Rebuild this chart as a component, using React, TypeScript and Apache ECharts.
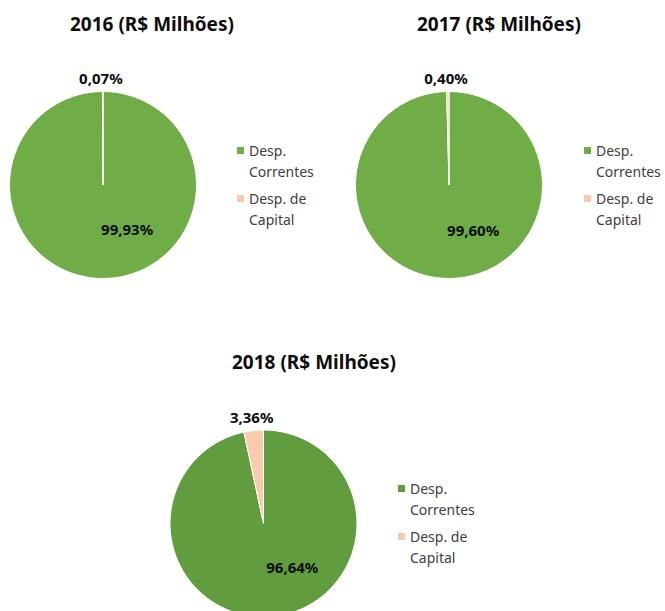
import React, { useEffect, useRef } from 'react';
import * as echarts from 'echarts';

// ---- data ----
const years = ['2016', '2017', '2018'];
const categories = ['Desp. Correntes', 'Desp. de Capital'];
const correntes = [99.93, 99.6, 96.64];
const capital = [0.07, 0.4, 3.36];
const legendLines: Record<string, string> = {
  'Desp. Correntes': 'Desp.\nCorrentes',
  'Desp. de Capital': 'Desp. de\nCapital',
};

// ---- styles / layout ----
const greens = ['#70AD47', '#70AD47', '#619D3F'];
const peach = '#F8CBAD';
const FONT = 'Noto Sans';

const layouts = [
  { center: [103, 185], titleLeft: 70, titleTop: 14, legendLeft: 237, legendTop: 119, big: [24, -6], small: [-2, -57] },
  { center: [449, 185], titleLeft: 417, titleTop: 14, legendLeft: 584, legendTop: 119, big: [23.5, -5], small: [-2.4, -57] },
  { center: [263.5, 523.5], titleLeft: 232, titleTop: 352, legendLeft: 398, legendTop: 457, big: [23.6, -6], small: [-6.6, -57] },
];

export default function App() {
  const ref = useRef<HTMLDivElement>(null);

  useEffect(() => {
    if (!ref.current) return;
    const chart = echarts.init(ref.current, undefined, { renderer: 'svg' });

    const option: any = {
      animation: false,
      backgroundColor: '#ffffff',
      title: years.map((y, i) => ({
        text: `${y} (R$ Milhões)`,
        left: layouts[i].titleLeft,
        top: layouts[i].titleTop,
        padding: 0,
        textStyle: { fontFamily: FONT, fontWeight: 'bold', fontSize: 19, color: '#0d0d0d' },
      })),
      legend: years.map((y, i) => ({
        orient: 'vertical',
        left: layouts[i].legendLeft,
        top: layouts[i].legendTop,
        padding: 0,
        itemWidth: 7,
        itemHeight: 7,
        itemGap: -15,
        icon: 'rect',
        selectedMode: false,
        itemStyle: { borderWidth: 0 },
        data: categories.map((c, j) => ({
          name: c,
          itemStyle: { color: j === 0 ? greens[i] : peach, borderWidth: 0 },
        })),
        // leading blank line so the icon lines up with the first text line
        formatter: (n: string) => ' \n' + (legendLines[n] ?? n),
        textStyle: {
          fontFamily: FONT,
          fontSize: 14,
          lineHeight: 21,
          color: '#404040',
        },
      })),
      series: years.map((y, i) => {
        const L = layouts[i];
        return {
          type: 'pie',
          name: y,
          center: L.center,
          radius: 93.5,
          startAngle: 90,
          clockwise: true,
          silent: true,
          avoidLabelOverlap: false,
          itemStyle: { borderColor: '#ffffff', borderWidth: 1 },
          data: categories.map((c, j) => ({
            name: c,
            value: j === 0 ? correntes[i] : capital[i],
            itemStyle: { color: j === 0 ? greens[i] : peach },
          })),
          label: {
            show: true,
            position: 'inside',
            formatter: (p: any) => Number(p.value).toFixed(2).replace('.', ',') + '%',
            fontFamily: FONT,
            fontWeight: 'bold',
            fontSize: 15,
            color: '#0d0d0d',
          },
          labelLine: { show: false },
          labelLayout: (p: any) => {
            const off = p.dataIndex === 0 ? L.big : L.small;
            const r = p.labelRect;
            return {
              x: r.x + r.width / 2 + off[0],
              y: r.y + r.height / 2 + off[1],
              align: 'center',
              verticalAlign: 'middle',
            };
          },
        };
      }),
    };

    chart.setOption(option);
    return () => chart.dispose();
  }, []);

  return (
    <div
      ref={ref}
      style={{ position: 'fixed', left: 0, top: 0, width: 665, height: 611, background: '#fff' }}
    />
  );
}
